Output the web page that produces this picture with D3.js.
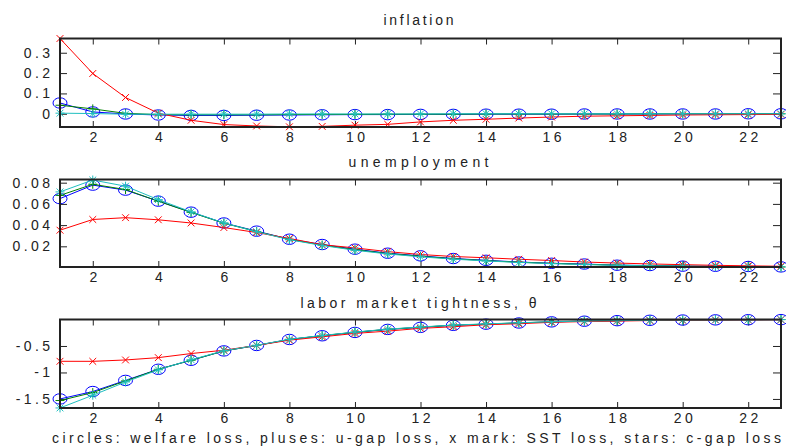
<!DOCTYPE html>
<html>
<head>
<meta charset="utf-8">
<script src="https://cdn.jsdelivr.net/npm/d3@7/dist/d3.min.js"></script>
<style>
  body { margin: 0; background: #fff; }
  text { font-family: "Liberation Sans", Arial, sans-serif; fill: #222; }
  .tick text { font-size: 14px; letter-spacing: 3.4px; }
</style>
</head>
<body>
<div id="chart"></div>
<script>
var periods = d3.range(1, 24);
var xTicks = [2, 4, 6, 8, 10, 12, 14, 16, 18, 20, 22];

// inflation
var inflWelfare = [0.053, 0.009, -0.001, -0.006, -0.008, -0.008, -0.007, -0.006, -0.005, -0.004, -0.004, -0.003, -0.003, -0.002, -0.002, -0.002, -0.001, -0.001, -0.001, -0.001, -0.001, 0, 0];
var inflUgap = [0.042, 0.024, 0.002, -0.004, -0.005, -0.005, -0.005, -0.004, -0.003, -0.003, -0.002, -0.002, -0.002, -0.001, -0.001, -0.001, -0.001, -0.001, 0, 0, 0, 0, 0];
var inflSST = [0.37, 0.198, 0.08, 0.003, -0.032, -0.053, -0.06, -0.064, -0.062, -0.056, -0.052, -0.04, -0.032, -0.027, -0.021, -0.016, -0.012, -0.01, -0.008, -0.006, -0.005, -0.004, -0.003];
var inflCgap = [0.003, 0.001, -0.002, -0.002, -0.002, -0.002, -0.002, -0.001, -0.001, -0.001, -0.001, -0.001, 0, 0, 0, 0, 0, 0, 0, 0, 0, 0, 0];
var inflTicks = [0, 0.1, 0.2, 0.3];
var inflTickLabels = ["0", "0.1", "0.2", "0.3"];

// unemployment
var uWelfare = [0.065, 0.0777, 0.073, 0.0626, 0.0522, 0.042, 0.0343, 0.0267, 0.0217, 0.0173, 0.0135, 0.011, 0.0085, 0.0068, 0.0052, 0.004, 0.0033, 0.0022, 0.0019, 0.0013, 0.0012, 0.001, 0.0006];
var uUgap = [0.068, 0.0785, 0.0735, 0.0625, 0.052, 0.0418, 0.034, 0.0265, 0.0212, 0.0168, 0.0132, 0.0106, 0.0083, 0.0065, 0.005, 0.0039, 0.003, 0.0022, 0.0017, 0.0013, 0.001, 0.0008, 0.0006];
var uSST = [0.0352, 0.0453, 0.047, 0.045, 0.042, 0.0377, 0.033, 0.0274, 0.0215, 0.0185, 0.015, 0.0123, 0.0104, 0.0092, 0.0078, 0.0066, 0.0052, 0.0042, 0.0034, 0.0027, 0.0021, 0.0016, 0.0012];
var uCgap = [0.0713, 0.0825, 0.0767, 0.064, 0.0525, 0.042, 0.0338, 0.0262, 0.0208, 0.0163, 0.0128, 0.0101, 0.0079, 0.0062, 0.0048, 0.0037, 0.0028, 0.0021, 0.0016, 0.0012, 0.0009, 0.0007, 0.0005];
var uTicks = [0.02, 0.04, 0.06, 0.08];
var uTickLabels = ["0.02", "0.04", "0.06", "0.08"];

// labor market tightness
var thWelfare = [-1.5, -1.36, -1.15, -0.94, -0.77, -0.593, -0.49, -0.377, -0.307, -0.244, -0.187, -0.148, -0.11, -0.088, -0.066, -0.045, -0.032, -0.022, -0.015, -0.01, -0.007, -0.004, -0.002];
var thUgap = [-1.53, -1.38, -1.16, -0.94, -0.77, -0.593, -0.49, -0.377, -0.305, -0.24, -0.185, -0.145, -0.108, -0.086, -0.064, -0.044, -0.031, -0.021, -0.014, -0.01, -0.006, -0.004, -0.002];
var thSST = [-0.789, -0.79, -0.764, -0.72, -0.643, -0.58, -0.49, -0.39, -0.327, -0.263, -0.219, -0.167, -0.137, -0.099, -0.08, -0.053, -0.04, -0.03, -0.02, -0.015, -0.01, -0.006, -0.003];
var thCgap = [-1.67, -1.43, -1.18, -0.95, -0.76, -0.59, -0.487, -0.373, -0.302, -0.238, -0.182, -0.142, -0.105, -0.083, -0.062, -0.042, -0.03, -0.02, -0.013, -0.009, -0.006, -0.003, -0.001];
var thTicks = [-1.5, -1, -0.5];
var thTickLabels = ["-1.5", "-1", "-0.5"];

var w = 786, h = 447;
var left = 60, right = 781;

var svg = d3.select("#chart").append("svg")
  .attr("width", w)
  .attr("height", h);

var xscale = d3.scaleLinear().domain([1, 23]).range([left, right]);

var panels = [
  { title: "inflation", top: 38.5, bottom: 127, domain: [-0.065, 0.37], ticks: inflTicks, labels: inflTickLabels,
    series: [inflWelfare, inflUgap, inflSST, inflCgap], titleY: 25, titleLen: 70 },
  { title: "unemployment", top: 179.5, bottom: 267, domain: [0.0005, 0.083], ticks: uTicks, labels: uTickLabels,
    series: [uWelfare, uUgap, uSST, uCgap], titleY: 167, titleLen: 140 },
  { title: "labor market tightness, θ", top: 319.5, bottom: 408, domain: [-1.671, 0], ticks: thTicks, labels: thTickLabels,
    series: [thWelfare, thUgap, thSST, thCgap], titleY: 308, titleLen: 236 }
];

var colors = ["#0000ff", "#008000", "#ff0000", "#1fbfbf"];
var markers = ["circle", "plus", "x", "star"];

function drawMarker(g, type, color) {
  if (type == "circle") {
    g.append("ellipse").attr("rx", 7).attr("ry", 5.2)
      .style("fill", "none").style("stroke", color).style("stroke-width", 1);
  } else {
    var p = "";
    if (type == "plus" || type == "star") p += "M-4.5,0H4.5M0,-4.5V4.5";
    if (type == "x" || type == "star") p += "M-3.4,-3.4L3.4,3.4M-3.4,3.4L3.4,-3.4";
    g.append("path").attr("d", p)
      .style("fill", "none").style("stroke", color).style("stroke-width", 1);
  }
}

panels.forEach(function(p) {
  var yscale = d3.scaleLinear().domain(p.domain).range([p.bottom, p.top]);
  var g = svg.append("g");

  var clipId = "clip" + p.top;
  svg.append("clipPath").attr("id", clipId)
    .append("rect")
    .attr("x", left - 8).attr("y", p.top - 6)
    .attr("width", right - left + 16).attr("height", p.bottom - p.top + 12);

  // axes
  g.append("g")
    .attr("transform", "translate(0," + p.bottom + ")")
    .call(d3.axisBottom(xscale).tickValues(xTicks).tickSize(-6).tickPadding(5))
    .call(function(a) { a.select(".domain").remove(); })
    .selectAll("text").attr("dx", 1.7);
  g.append("g")
    .attr("transform", "translate(0," + p.top + ")")
    .call(d3.axisTop(xscale).tickValues(xTicks).tickSize(-6).tickFormat(""))
    .call(function(a) { a.select(".domain").remove(); });
  g.append("g")
    .attr("transform", "translate(" + left + ",0)")
    .call(d3.axisLeft(yscale).tickValues(p.ticks).tickSize(-7).tickPadding(10)
      .tickFormat(function(d, i) { return p.labels[i]; }))
    .call(function(a) { a.select(".domain").remove(); })
    .selectAll("text").attr("dx", 3.4);
  g.append("g")
    .attr("transform", "translate(" + right + ",0)")
    .call(d3.axisRight(yscale).tickValues(p.ticks).tickSize(-8).tickFormat(""))
    .call(function(a) { a.select(".domain").remove(); });

  g.selectAll(".tick line").style("stroke", "#222").style("stroke-width", 1);
  g.selectAll(".tick text").style("fill", "#222");

  // data
  var plot = g.append("g").attr("clip-path", "url(#" + clipId + ")");
  var line = d3.line()
    .x(function(d, i) { return xscale(periods[i]); })
    .y(function(d) { return yscale(d); });

  [0, 1, 2, 3].forEach(function(k) {
    plot.append("path")
      .datum(p.series[k])
      .style("fill", "none")
      .style("stroke", colors[k])
      .style("stroke-width", 1)
      .attr("d", line);
    plot.selectAll(".m" + k)
      .data(p.series[k])
      .enter().append("g")
      .attr("class", "m" + k)
      .attr("transform", function(d, i) {
        return "translate(" + xscale(periods[i]) + "," + yscale(d) + ")";
      })
      .each(function() { drawMarker(d3.select(this), markers[k], colors[k]); });
  });

  // box
  g.append("rect")
    .attr("x", left).attr("y", p.top)
    .attr("width", right - left).attr("height", p.bottom - p.top)
    .style("fill", "none").style("stroke", "#222").style("stroke-width", 2);

  // title
  svg.append("text")
    .attr("x", (left + right) / 2 - 2)
    .attr("y", p.titleY)
    .attr("text-anchor", "middle")
    .attr("textLength", p.titleLen)
    .attr("lengthAdjust", "spacing")
    .style("font-size", "14px")
    .text(p.title);
});

svg.append("text")
  .attr("x", 52)
  .attr("y", 443)
  .attr("textLength", 729)
  .attr("lengthAdjust", "spacing")
  .style("font-size", "14px")
  .text("circles: welfare loss, pluses: u-gap loss, x mark: SST loss, stars: c-gap loss");
</script>
</body>
</html>
